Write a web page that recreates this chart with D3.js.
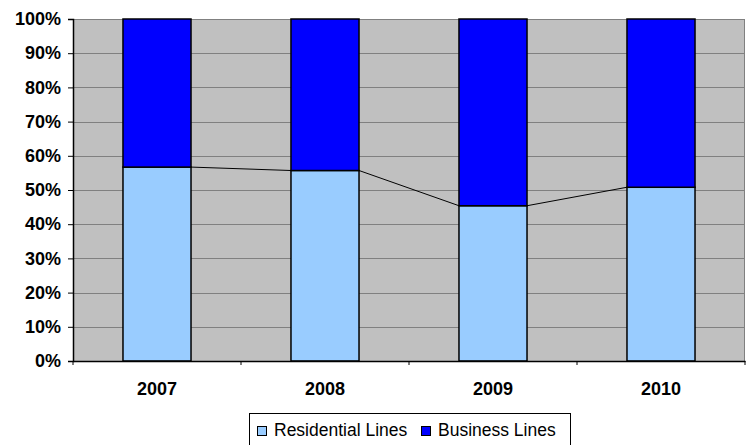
<!DOCTYPE html>
<html>
<head>
<meta charset="utf-8">
<script src="https://cdn.jsdelivr.net/npm/d3@7"></script>
<style>
  html, body { margin: 0; padding: 0; background: #fff; }
  svg { display: block; font-family: Arial, "Liberation Sans", sans-serif; }
</style>
</head>
<body>
<svg id="chart" width="746" height="445"></svg>
<script>
// Share of lines by type, per year (percent)
const years = ["2007", "2008", "2009", "2010"];
const residential = [56.7, 55.7, 45.4, 50.8];
const business = [43.3, 44.3, 54.6, 49.2];
const seriesNames = ["Residential Lines", "Business Lines"];
const seriesColors = ["#99CCFF", "#0000FF"];
const yTicks = [0, 10, 20, 30, 40, 50, 60, 70, 80, 90, 100];

const FONT = "Arial, 'Liberation Sans', sans-serif";
const svg = d3.select("#chart");
const plot = { left: 73, right: 745, top: 19, bottom: 361 };

const x = d3.scaleBand().domain(years).range([plot.left, plot.right]).paddingInner(0.595).paddingOuter(0.2975);
const y = d3.scaleLinear().domain([0, 100]).range([plot.bottom, plot.top]);

// plot background
svg.append("rect")
  .attr("x", plot.left).attr("y", plot.top)
  .attr("width", plot.right - plot.left).attr("height", plot.bottom - plot.top)
  .attr("fill", "#C0C0C0");

// horizontal gridlines
svg.append("g").selectAll("line").data(yTicks.filter(d => d > 0)).join("line")
  .attr("x1", plot.left).attr("x2", plot.right)
  .attr("y1", d => Math.round(y(d)) + 0.5).attr("y2", d => Math.round(y(d)) + 0.5)
  .attr("stroke", "#808080").attr("stroke-width", 1);

// right border of the plot
svg.append("line")
  .attr("x1", plot.right - 0.5).attr("x2", plot.right - 0.5)
  .attr("y1", plot.top).attr("y2", plot.bottom)
  .attr("stroke", "#808080");

// stacked data
const rows = years.map((yr, i) => ({ year: yr, res: residential[i], bus: business[i] }));
const stacked = d3.stack().keys(["res", "bus"])(rows);

// series connector lines between residential tops
const connectors = [];
for (let i = 0; i < years.length - 1; i++) {
  connectors.push({
    x1: x(years[i]) + x.bandwidth(), y1: y(residential[i]),
    x2: x(years[i + 1]), y2: y(residential[i + 1])
  });
}
svg.append("g").selectAll("line").data(connectors).join("line")
  .attr("x1", d => d.x1).attr("y1", d => d.y1)
  .attr("x2", d => d.x2).attr("y2", d => d.y2)
  .attr("stroke", "#000").attr("stroke-width", 1);

// bars
svg.append("g").selectAll("g").data(stacked).join("g")
  .attr("fill", (d, i) => seriesColors[i])
  .selectAll("rect").data(d => d).join("rect")
  .attr("x", d => x(d.data.year))
  .attr("y", d => y(d[1]))
  .attr("width", x.bandwidth())
  .attr("height", d => y(d[0]) - y(d[1]))
  .attr("stroke", "#000").attr("stroke-width", 1.5);

// y axis
const yAxis = d3.axisLeft(y).tickValues(yTicks).tickFormat(d => d + "%").tickSize(5).tickPadding(7);
const gy = svg.append("g").attr("transform", `translate(${plot.left},0)`).call(yAxis);
gy.select(".domain").attr("stroke", "#000").attr("stroke-width", 1.5);
gy.selectAll(".tick line").attr("stroke", "#000");
gy.selectAll(".tick text")
  .attr("font-size", 18).attr("font-weight", "bold")
  .attr("font-family", FONT).attr("fill", "#000");

// x axis
const xAxis = d3.axisBottom(x).tickSize(0).tickPadding(21);
const gx = svg.append("g").attr("transform", `translate(0,${plot.bottom})`).call(xAxis);
gx.select(".domain").attr("stroke", "#000").attr("stroke-width", 1.5);
gx.selectAll(".tick text")
  .attr("font-size", 18).attr("font-weight", "bold")
  .attr("font-family", FONT).attr("fill", "#000");
// category separator ticks on the x axis
const sepX = years.map(yr => x(yr) - x.step() * x.paddingInner() / 2).concat([plot.right]);
gx.append("g").selectAll("line").data(sepX).join("line")
  .attr("x1", d => d).attr("x2", d => d).attr("y1", 0).attr("y2", 4)
  .attr("stroke", "#000");

// legend
const legend = svg.append("g");
legend.append("rect")
  .attr("x", 249.5).attr("y", 413.5).attr("width", 321).attr("height", 40)
  .attr("fill", "#fff").attr("stroke", "#000");
const items = [{ name: seriesNames[0], color: seriesColors[0], x: 257 }, { name: seriesNames[1], color: seriesColors[1], x: 421 }];
items.forEach(it => {
  legend.append("rect")
    .attr("x", it.x + 0.5).attr("y", 426.5).attr("width", 9).attr("height", 9)
    .attr("fill", it.color).attr("stroke", "#000");
  legend.append("text")
    .attr("x", it.x + 17).attr("y", 436)
    .attr("font-size", 17.5).attr("font-family", FONT).attr("fill", "#000")
    .text(it.name);
});
</script>
</body>
</html>
